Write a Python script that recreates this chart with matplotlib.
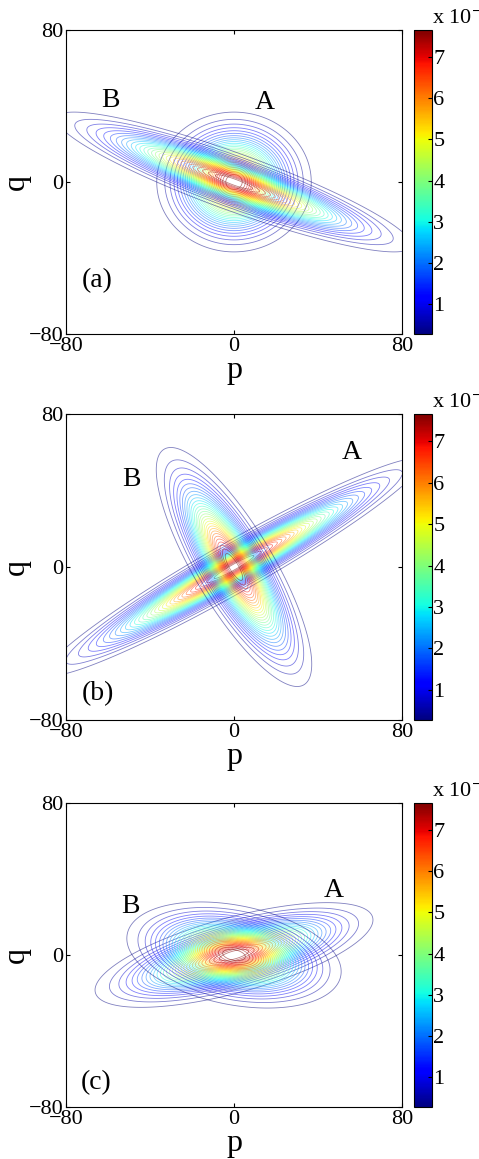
import numpy as np
import matplotlib
matplotlib.use('Agg')
import matplotlib.pyplot as plt
from matplotlib.colors import Normalize
from matplotlib.cm import ScalarMappable

plt.rcParams['font.family'] = ['Liberation Serif', 'DejaVu Serif']
plt.rcParams['mathtext.fontset'] = 'stix'

# panel tags
panels = ['(a)', '(b)', '(c)']

# gaussian A: widths (major, minor) and tilt in degrees
sig_major_A = [14.14, 40.4, 26.5]
sig_minor_A = [14.14, 4.95, 7.55]
angle_A = [0, 32, 17]

# gaussian B
sig_major_B = [35.0, 26.9, 20.0]
sig_minor_B = [5.72, 7.4, 10.0]
angle_B = [-22, 118, -13]

# label positions (p, q)
pos_A = [(14.6, 42), (56, 60), (47.5, 34)]
pos_B = [(-59, 43), (-49, 45.5), (-49.5, 25.5)]
pos_tag = [(-65, -52), (-65, -66), (-65.5, -67)]

# contour levels / colour range
level_min = 0.27e-4
level_max = 7.66e-4
n_levels = 30
cbar_ticks = [1e-4, 2e-4, 3e-4, 4e-4, 5e-4, 6e-4, 7e-4]
cbar_labels = ['1', '2', '3', '4', '5', '6', '7']

p = np.linspace(-80, 80, 481)
P, Q = np.meshgrid(p, p)


def gauss2d(s1, s2, ang):
    t = np.deg2rad(ang)
    u = P * np.cos(t) + Q * np.sin(t)
    v = -P * np.sin(t) + Q * np.cos(t)
    return np.exp(-u**2 / (2 * s1**2) - v**2 / (2 * s2**2)) / (2 * np.pi * s1 * s2)


W, H = 479, 1159
fig = plt.figure(figsize=(W / 100, H / 100), dpi=100)

# axes boxes in pixels: (top, bottom)
boxes = [(30, 334), (414, 720), (803, 1107)]
ax_left, ax_right = 66, 402
cb_left, cb_right = 414, 432

levels = np.linspace(level_min, level_max, n_levels)

for i in range(3):
    top, bot = boxes[i]
    norm = Normalize(level_min, level_max)
    ax = fig.add_axes([ax_left / W, (H - bot) / H, (ax_right - ax_left) / W, (bot - top) / H])
    ZA = gauss2d(sig_major_A[i], sig_minor_A[i], angle_A[i])
    ZB = gauss2d(sig_major_B[i], sig_minor_B[i], angle_B[i])
    for Z in (ZA, ZB):
        ax.contour(P, Q, Z, levels=levels, cmap='jet', norm=norm, linewidths=0.6, alpha=0.5)

    ax.set_xlim(-80, 80)
    ax.set_ylim(-80, 80)
    ax.set_xticks([-80, 0, 80])
    ax.set_yticks([-80, 0, 80])
    ax.tick_params(direction='in', top=True, right=True, length=3, width=0.8, labelsize=16, pad=2)
    ax.set_xlabel('p', fontsize=23, labelpad=0)
    ax.set_ylabel('q', fontsize=23, labelpad=-2)

    ax.text(pos_A[i][0], pos_A[i][1], 'A', fontsize=20, ha='center', va='center')
    ax.text(pos_B[i][0], pos_B[i][1], 'B', fontsize=20, ha='center', va='center')
    ax.text(pos_tag[i][0], pos_tag[i][1], panels[i], fontsize=20, ha='center', va='center')

    cax = fig.add_axes([cb_left / W, (H - bot) / H, (cb_right - cb_left) / W, (bot - top) / H])
    cb = fig.colorbar(ScalarMappable(norm=norm, cmap='jet'), cax=cax)
    cb.set_ticks(cbar_ticks, labels=cbar_labels)
    cax.tick_params(direction='in', length=3, width=0.8, labelsize=16, pad=1)
    cb.outline.set_linewidth(0.8)
    fig.text(432 / W, (H - top + 6) / H, r'x 10$^{-4}$', fontsize=16, ha='left', va='baseline')

plt.savefig('out.png', dpi=100)
